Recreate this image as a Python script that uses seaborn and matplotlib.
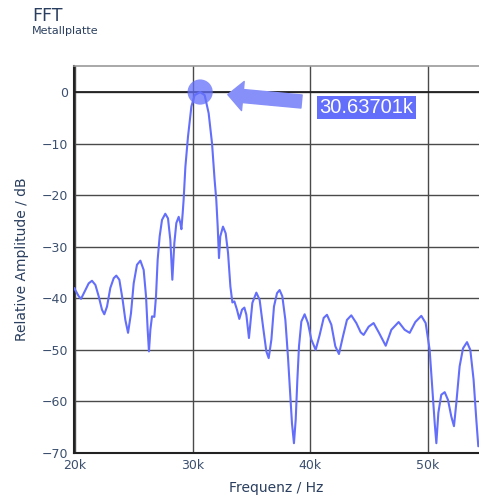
import matplotlib
matplotlib.use("Agg")
import matplotlib.pyplot as plt
import seaborn as sns
import pandas as pd

# Frequency (kHz) and relative amplitude (dB)
freq_khz = [19.92, 20.01, 20.30, 20.50, 20.87, 21.15, 21.43, 21.72, 22.00, 22.28,
            22.48, 22.71, 22.99, 23.28, 23.50, 23.76, 24.04, 24.27, 24.50, 24.75,
            24.98, 25.26, 25.55, 25.83, 26.03, 26.17, 26.28, 26.40, 26.54, 26.74,
            26.88, 27.02, 27.19, 27.39, 27.67, 27.90, 28.10, 28.27, 28.44, 28.61,
            28.81, 28.95, 29.04, 29.15, 29.23, 29.38, 29.60, 29.89, 30.17, 30.637,
            31.02, 31.36, 31.65, 31.87, 32.01, 32.13, 32.24, 32.35, 32.58, 32.81,
            33.01, 33.21, 33.38, 33.55, 33.77, 33.97, 34.20, 34.40, 34.57, 34.79,
            34.99, 35.08, 35.42, 35.70, 35.99, 36.27, 36.47, 36.70, 36.92, 37.18,
            37.40, 37.63, 37.89, 38.11, 38.31, 38.45, 38.62, 38.77, 38.91, 39.05,
            39.25, 39.53, 39.81, 40.10, 40.47, 40.81, 41.15, 41.43, 41.80, 42.14,
            42.45, 42.79, 43.13, 43.50, 43.93, 44.30, 44.55, 44.98, 45.40, 45.86,
            46.43, 46.91, 47.53, 48.04, 48.47, 48.95, 49.46, 49.83, 50.17, 50.40,
            50.60, 50.74, 50.91, 51.16, 51.45, 51.73, 52.01, 52.24, 52.44, 52.72,
            53.01, 53.35, 53.63, 53.91, 54.14, 54.31]
amp_db = [-38.0, -38.4, -39.6, -40.1, -38.4, -37.1, -36.6, -37.4, -39.6, -42.2,
          -43.1, -41.6, -38.0, -36.1, -35.6, -36.4, -40.3, -44.2, -46.7, -42.9,
          -37.1, -33.5, -32.7, -34.5, -39.6, -46.1, -50.3, -46.1, -43.5, -43.6,
          -39.6, -32.5, -28.0, -24.8, -23.6, -24.5, -28.7, -36.4, -29.3, -25.4,
          -24.2, -25.4, -26.6, -23.5, -20.9, -14.5, -8.7, -2.8, -0.6, 0.0,
          -0.6, -4.1, -10.0, -17.1, -20.9, -26.1, -32.2, -28.0, -26.1, -27.4,
          -31.2, -37.7, -40.8, -40.6, -42.2, -44.0, -42.2, -41.8, -43.2, -47.7,
          -42.9, -40.9, -38.9, -40.3, -45.5, -50.3, -51.6, -48.0, -41.6, -39.0,
          -38.4, -39.6, -44.2, -51.3, -59.0, -64.2, -68.1, -63.5, -55.8, -49.3,
          -44.5, -43.1, -44.8, -48.0, -50.0, -47.1, -43.8, -43.2, -45.1, -49.3,
          -50.8, -47.4, -44.2, -43.3, -44.8, -46.6, -47.1, -45.5, -44.8, -46.7,
          -49.2, -46.1, -44.6, -46.1, -46.7, -44.6, -43.4, -44.8, -50.0, -57.7,
          -64.2, -68.1, -62.2, -58.7, -58.2, -59.7, -62.9, -64.8, -60.3, -53.2,
          -49.7, -48.5, -50.0, -55.8, -63.5, -68.7]
peak_freq_khz = [30.63701]
peak_db = [0.0]
peak_label = "30.63701k"

x_ticks = [20000, 30000, 40000, 50000]
x_tick_labels = ["20k", "30k", "40k", "50k"]
y_ticks = [0, -10, -20, -30, -40, -50, -60, -70]

title = "FFT"
subtitle = "Metallplatte"
x_title = "Frequenz / Hz"
y_title = "Relative Amplitude / dB"

df = pd.DataFrame({"f": [v * 1000 for v in freq_khz], "a": amp_db})
pk = pd.DataFrame({"f": [v * 1000 for v in peak_freq_khz], "a": peak_db})

sns.set_theme(style="white")
plt.rcParams["font.family"] = ["DejaVu Sans"]
plt.rcParams["axes.unicode_minus"] = True

fig = plt.figure(figsize=(4.79, 4.96), dpi=100)
ax = fig.add_axes([74 / 479, 43 / 496, 1 - 74 / 479, (453 - 66) / 496])

blue = "#636efa"
txtc = "#2a3f5f"

sns.lineplot(data=df, x="f", y="a", ax=ax, color=blue, linewidth=1.5, sort=False, zorder=3)
sns.scatterplot(data=pk, x="f", y="a", ax=ax, s=330, color=blue, alpha=0.75,
                edgecolor="none", zorder=4)

ax.set_xlim(19900, 54370)
ax.set_ylim(-70, 5.05)
ax.set_xticks(x_ticks)
ax.set_xticklabels(x_tick_labels)
ax.set_yticks(y_ticks)
ax.grid(True, color="#4a4a4a", linewidth=1.0)
ax.set_axisbelow(True)
ax.axhline(0, color="#222222", linewidth=1.3, zorder=1)

for s in ["left", "bottom"]:
    ax.spines[s].set_color("#222222")
    ax.spines[s].set_linewidth(1.5)
ax.spines["top"].set_color("#9a9a9a")
ax.spines["top"].set_linewidth(1.2)
ax.spines["right"].set_visible(False)

ax.tick_params(axis="both", length=0, labelsize=9, colors="#3b4f6e", pad=4)
ax.set_xlabel(x_title, fontsize=10, color=txtc, labelpad=7)
ax.set_ylabel(y_title, fontsize=10, color=txtc, labelpad=9)

ax.annotate(peak_label, xy=(pk["f"][0], pk["a"][0]), xytext=(366 - 200, -(107.5 - 92)),
            textcoords="offset pixels", ha="center", va="center",
            fontsize=14.5, color="white", family="Liberation Sans",
            bbox=dict(boxstyle="square,pad=0.12", fc=blue, ec="none"),
            arrowprops=dict(arrowstyle="simple,head_length=0.75,head_width=1.45,tail_width=0.65",
                            color="#8790f8", shrinkA=11, shrinkB=20),
            zorder=6)

fig.text(32 / 479, 1 - 16 / 496, title, fontsize=12.5, color=txtc, va="center", ha="left")
fig.text(32 / 479, 1 - 31 / 496, subtitle, fontsize=8, color=txtc, va="center", ha="left")

fig.savefig("out.png", dpi=100)
